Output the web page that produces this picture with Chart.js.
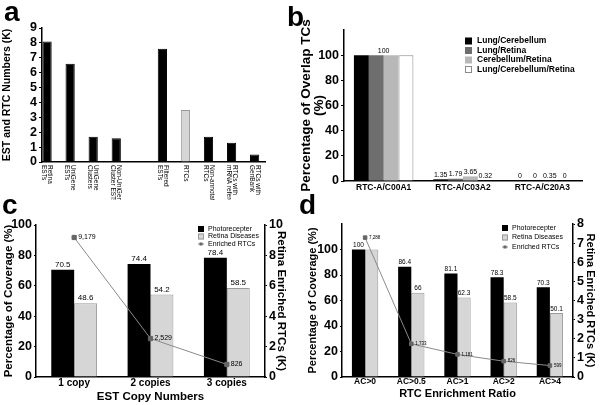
<!DOCTYPE html>
<html>
<head>
<meta charset="utf-8">
<script src="https://cdn.jsdelivr.net/npm/chart.js@4/dist/chart.umd.min.js"></script>
<style>
  body { margin: 0; background: #fff; width: 600px; height: 405px; position: relative; overflow: hidden; }
  canvas { position: absolute; }
  .tag { position: absolute; font: bold 28px "Liberation Sans", Arial, sans-serif; line-height: 28px; color: #000; }
</style>
</head>
<body>
<canvas id="chartA" width="300" height="200" style="left:0;top:0"></canvas>
<canvas id="chartB" width="300" height="200" style="left:300px;top:0"></canvas>
<canvas id="chartC" width="300" height="205" style="left:0;top:200px"></canvas>
<canvas id="chartD" width="300" height="205" style="left:300px;top:200px"></canvas>
<div class="tag" style="left:4px;top:-2px">a</div>
<div class="tag" style="left:287px;top:3px">b</div>
<div class="tag" style="left:2px;top:191px">c</div>
<div class="tag" style="left:299px;top:191px">d</div>
<script>
// ---- panel a: EST / RTC numbers (K)
var aCategories = ['Retina\nESTs', 'UniGene\nESTs', 'UniGene\nClusters', 'Non-UniGene\nCluster ESTs', '',
                   'Filtered\nESTs', 'RTCs', 'Non-annotated\nRTCs', 'RTCs with\nmRNA reference', 'RTCs with\nGenBank'];
var aValues = [8.1, 6.6, 1.7, 1.6, null, 7.6, 3.5, 1.7, 1.3, 0.5];

// ---- panel b: overlap of TCs (%)
var bCategories = ['RTC-A/C00A1', 'RTC-A/C03A2', 'RTC-A/C20A3'];
var bLungCerebellum = [100, 1.35, 0];
var bLungRetina = [100, 1.79, 0];
var bCerebellumRetina = [100, 3.65, 0.35];
var bAllThree = [100, 0.32, 0];

// ---- panel c: EST copy numbers
var cCategories = ['1 copy', '2 copies', '3 copies'];
var cPhotoreceptor = [70.5, 74.4, 78.4];
var cRetinaDiseases = [48.6, 54.2, 58.5];
var cEnrichedRTCs = [9.179, 2.529, 0.826];

// ---- panel d: RTC enrichment ratio
var dCategories = ['AC>0', 'AC>0.5', 'AC>1', 'AC>2', 'AC>4'];
var dPhotoreceptor = [100, 86.4, 81.1, 78.3, 70.3];
var dRetinaDiseases = [100, 66, 62.3, 58.5, 50.1];
var dEnrichedRTCs = [7.288, 1.733, 1.181, 0.826, 0.599];

var FONT = '"Liberation Sans", Arial, sans-serif';
var LIGHT = '#d6d6d6';
var LIGHT_EDGE = '#9a9a9a';

Chart.defaults.font.family = FONT;
Chart.defaults.color = '#000';
Chart.defaults.animation = false;
Chart.defaults.plugins.legend.display = false;
Chart.defaults.plugins.tooltip.enabled = false;

function thousands(v) {
    return Math.round(v * 1000).toLocaleString('en-US');
}

// text over bars / beside line points
var valueLabels = {
    id: 'valueLabels',
    afterDatasetsDraw(chart) {
        var ctx = chart.ctx;
        chart.data.datasets.forEach((ds, di) => {
            if (!ds.valueLabels) return;
            var meta = chart.getDatasetMeta(di);
            ctx.save();
            ctx.fillStyle = '#000';
            ctx.font = ds.labelFont;
            meta.data.forEach((el, i) => {
                var t = ds.valueLabels[i];
                if (t == null) return;
                if (meta.type === 'line') {
                    ctx.textAlign = 'left';
                    ctx.textBaseline = 'middle';
                    ctx.fillText(t, el.x + 4, el.y);
                } else {
                    ctx.textAlign = 'center';
                    ctx.textBaseline = 'bottom';
                    ctx.fillText(t, el.x, el.y - 1);
                }
            });
            ctx.restore();
        });
        var g = chart.options.plugins.groupLabels;
        if (g && g.labels) {
            var xs = chart.scales.x, ys = chart.scales.y;
            ctx.save();
            ctx.font = g.font;
            ctx.textAlign = 'center';
            ctx.textBaseline = 'bottom';
            g.labels.forEach((t, i) => {
                if (t == null) return;
                ctx.fillText(t, xs.getPixelForValue(i), ys.getPixelForValue(g.values[i]) - 1);
            });
            ctx.restore();
        }
    }
};

// small legend drawn inside the plot
var boxLegend = {
    id: 'boxLegend',
    afterDraw(chart, args, opts) {
        if (!opts || opts.x == null) return;
        var ctx = chart.ctx;
        ctx.save();
        ctx.font = opts.font;
        ctx.textAlign = 'left';
        ctx.textBaseline = 'middle';
        chart.data.datasets.forEach((ds, i) => {
            var x = opts.x, y = opts.y + i * opts.step, s = opts.box;
            if (ds.type === 'line') {
                ctx.strokeStyle = ds.borderColor;
                ctx.lineWidth = 1;
                ctx.beginPath();
                ctx.moveTo(x, y);
                ctx.lineTo(x + s, y);
                ctx.stroke();
                ctx.fillStyle = ds.pointBackgroundColor;
                ctx.fillRect(x + s / 2 - 1.5, y - 1.5, 3, 3);
            } else {
                ctx.fillStyle = ds.backgroundColor;
                ctx.fillRect(x, y - s / 2, s, s);
                if (ds.borderWidth) {
                    ctx.strokeStyle = ds.borderColor;
                    ctx.lineWidth = 1;
                    ctx.strokeRect(x + 0.5, y - s / 2 + 0.5, s - 1, s - 1);
                }
            }
            ctx.fillStyle = '#000';
            ctx.fillText(ds.label, x + s + opts.gap, y);
        });
        ctx.restore();
    }
};

// x labels of panel a, turned clockwise
var sideLabels = {
    id: 'sideLabels',
    afterDraw(chart, args, opts) {
        if (!opts || !opts.labels) return;
        var xs = chart.scales.x, ctx = chart.ctx;
        ctx.save();
        ctx.font = opts.font;
        ctx.fillStyle = '#000';
        ctx.textAlign = 'left';
        ctx.textBaseline = 'middle';
        opts.labels.forEach((lab, i) => {
            if (!lab) return;
            var lines = lab.split('\n');
            ctx.save();
            ctx.translate(xs.getPixelForValue(i), xs.top + opts.pad);
            ctx.rotate(Math.PI / 2);
            lines.forEach((ln, k) => ctx.fillText(ln, 0, (k - (lines.length - 1) / 2) * opts.lh));
            ctx.restore();
        });
        ctx.restore();
    }
};

var axisLine = { color: '#000', width: 1.5 };
function tickFont(size) { return { family: FONT, size: size, weight: 'bold' }; }
function fixWidth(w) { return s => { s.width = w; }; }
function fixHeight(h) { return s => { s.height = h; }; }
function upTo(limit) { return s => { s.ticks = s.ticks.filter(t => t.value <= limit); }; }

// ---------- a
new Chart(document.getElementById('chartA'), {
    type: 'bar',
    data: {
        datasets: [{
            data: aValues.map((v, i) => ({ x: i, y: v })).filter(p => p.y !== null),
            backgroundColor: aValues.map((v, i) => aCategories[i] === 'RTCs' ? LIGHT : '#000').filter((c, i) => aValues[i] !== null),
            borderColor: aValues.map((v, i) => aCategories[i] === 'RTCs' ? LIGHT_EDGE : '#000').filter((c, i) => aValues[i] !== null),
            borderWidth: 1,
            barPercentage: 0.4,
            categoryPercentage: 1
        }]
    },
    options: {
        responsive: false,
        layout: { padding: { left: 0, top: 28, right: 35, bottom: 0 } },
        scales: {
            x: {
                type: 'linear', min: -0.22, max: 9.45, offset: false,
                ticks: { display: false },
                grid: { display: false },
                border: axisLine,
                afterFit: fixHeight(38)
            },
            y: {
                min: 0, max: 9,
                ticks: { stepSize: 1, autoSkip: false, font: tickFont(12.5), padding: 2 },
                grid: { drawOnChartArea: false, tickLength: 3, color: '#000' },
                border: axisLine,
                title: { display: true, text: 'EST and RTC Numbers (K)', font: tickFont(10.5), padding: { top: 1, bottom: 0 } },
                afterFit: fixWidth(42)
            }
        },
        plugins: {
            sideLabels: { labels: aCategories, font: '6.5px ' + FONT, lh: 6, pad: 3 }
        }
    },
    plugins: [sideLabels]
});

// ---------- b
var bSeries = [
    ['Lung/Cerebellum', bLungCerebellum, '#000', '#000'],
    ['Lung/Retina', bLungRetina, '#6e6e6e', '#6e6e6e'],
    ['Cerebellum/Retina', bCerebellumRetina, '#b8b8b8', '#b8b8b8'],
    ['Lung/Cerebellum/Retina', bAllThree, '#fff', '#8a8a8a']
];
new Chart(document.getElementById('chartB'), {
    type: 'bar',
    data: {
        labels: bCategories,
        datasets: bSeries.map(s => ({
            label: s[0],
            data: s[1],
            backgroundColor: s[2],
            borderColor: s[3],
            borderWidth: s[2] === '#fff' ? 1 : 0,
            categoryPercentage: 0.75,
            barPercentage: 1,
            valueLabels: s[1].map((v, i) => i === 0 ? null : String(v)),
            labelFont: '7px ' + FONT
        }))
    },
    options: {
        responsive: false,
        layout: { padding: { left: 0, top: 30, right: 18, bottom: 0 } },
        scales: {
            x: {
                ticks: { font: tickFont(8.5), padding: 2 },
                grid: { display: false, drawTicks: false },
                border: axisLine,
                afterFit: fixHeight(19)
            },
            y: {
                min: 0, max: 120,
                ticks: { stepSize: 20, autoSkip: false, font: tickFont(12.5), padding: 2 },
                afterBuildTicks: upTo(100),
                grid: { drawOnChartArea: false, tickLength: 3, color: '#000' },
                border: axisLine,
                title: { display: true, text: ['Percentage of Overlap TCs', '(%)'], font: { family: FONT, size: 13.5, weight: 'bold', lineHeight: 0.95 }, padding: { top: 0, bottom: 0 } },
                afterFit: fixWidth(44)
            }
        },
        plugins: {
            groupLabels: { labels: ['100', null, null], values: bLungCerebellum, font: '7px ' + FONT },
            boxLegend: { x: 165, y: 41, step: 9.5, box: 7, gap: 5, font: 'bold 8.5px ' + FONT }
        }
    },
    plugins: [valueLabels, boxLegend]
});

// ---------- c
new Chart(document.getElementById('chartC'), {
    type: 'bar',
    data: {
        labels: cCategories,
        datasets: [{
            label: 'Photorecepter',
            data: cPhotoreceptor,
            backgroundColor: '#000',
            borderWidth: 0,
            categoryPercentage: 0.6,
            barPercentage: 1,
            valueLabels: cPhotoreceptor.map(String),
            labelFont: '8px ' + FONT
        }, {
            label: 'Retina Diseases',
            data: cRetinaDiseases,
            backgroundColor: LIGHT,
            borderColor: LIGHT_EDGE,
            borderWidth: 1,
            categoryPercentage: 0.6,
            barPercentage: 1,
            valueLabels: cRetinaDiseases.map(String),
            labelFont: '8px ' + FONT
        }, {
            type: 'line',
            label: 'Enriched RTCs',
            data: cEnrichedRTCs,
            yAxisID: 'y1',
            order: -1,
            borderColor: '#8a8a8a',
            borderWidth: 1,
            pointStyle: 'rect',
            pointRadius: 3,
            pointBackgroundColor: '#666',
            pointBorderColor: '#666',
            valueLabels: cEnrichedRTCs.map(thousands),
            labelFont: '7px ' + FONT
        }]
    },
    options: {
        responsive: false,
        layout: { padding: { left: 0, top: 25, right: 12, bottom: 0 } },
        scales: {
            x: {
                ticks: { font: tickFont(10), padding: 0 },
                grid: { display: false, drawTicks: false },
                border: axisLine,
                title: { display: true, text: 'EST Copy Numbers', font: tickFont(11.5), padding: { top: 0, bottom: 1 } },
                afterFit: fixHeight(28)
            },
            y: {
                min: 0, max: 100,
                ticks: { stepSize: 20, autoSkip: false, font: tickFont(12.5), padding: 2 },
                grid: { drawOnChartArea: false, tickLength: 2, color: '#000' },
                border: axisLine,
                title: { display: true, text: 'Percentage of Coverage (%)', font: tickFont(11.5), padding: { top: 2, bottom: 0 } },
                afterFit: fixWidth(36)
            },
            y1: {
                position: 'right',
                min: 0, max: 10,
                ticks: { stepSize: 2, autoSkip: false, font: tickFont(12.5), padding: 2 },
                grid: { drawOnChartArea: false, tickLength: 2, color: '#000' },
                border: axisLine,
                title: { display: true, text: 'Retina Enriched RTCs (K)', font: tickFont(11.5), padding: { top: 0, bottom: 0 } },
                afterFit: fixWidth(23)
            }
        },
        plugins: {
            boxLegend: { x: 198, y: 29, step: 7.5, box: 6, gap: 4, font: '7px ' + FONT }
        }
    },
    plugins: [valueLabels, boxLegend]
});

// ---------- d
new Chart(document.getElementById('chartD'), {
    type: 'bar',
    data: {
        labels: dCategories,
        datasets: [{
            label: 'Photorecepter',
            data: dPhotoreceptor,
            backgroundColor: '#000',
            borderWidth: 0,
            categoryPercentage: 0.57,
            barPercentage: 1,
            valueLabels: dPhotoreceptor.map(String),
            labelFont: '6.5px ' + FONT
        }, {
            label: 'Retina Diseases',
            data: dRetinaDiseases,
            backgroundColor: LIGHT,
            borderColor: LIGHT_EDGE,
            borderWidth: 1,
            categoryPercentage: 0.57,
            barPercentage: 1,
            valueLabels: dRetinaDiseases.map((v, i) => i === 0 ? null : String(v)),
            labelFont: '6.5px ' + FONT
        }, {
            type: 'line',
            label: 'Enriched RTCs',
            data: dEnrichedRTCs,
            yAxisID: 'y1',
            order: -1,
            borderColor: '#8a8a8a',
            borderWidth: 1,
            pointStyle: 'rect',
            pointRadius: 2.5,
            pointBackgroundColor: '#666',
            pointBorderColor: '#666',
            valueLabels: dEnrichedRTCs.map(thousands),
            labelFont: '4.5px ' + FONT
        }]
    },
    options: {
        responsive: false,
        layout: { padding: { left: 0, top: 24, right: 3, bottom: 0 } },
        scales: {
            x: {
                ticks: { font: tickFont(8.5), padding: 0 },
                grid: { display: false, drawTicks: false },
                border: axisLine,
                title: { display: true, text: 'RTC Enrichment Ratio', font: tickFont(11), padding: { top: 0, bottom: 4 } },
                afterFit: fixHeight(28)
            },
            y: {
                min: 0, max: 120,
                ticks: { stepSize: 20, autoSkip: false, font: tickFont(12.5), padding: 2 },
                afterBuildTicks: upTo(100),
                grid: { drawOnChartArea: false, tickLength: 2, color: '#000' },
                border: axisLine,
                title: { display: true, text: 'Percentage of Coverage (%)', font: tickFont(11), padding: { top: 6, bottom: 0 } },
                afterFit: fixWidth(42)
            },
            y1: {
                position: 'right',
                min: 0, max: 8,
                ticks: { stepSize: 1, autoSkip: false, font: tickFont(12.5), padding: 2 },
                grid: { drawOnChartArea: false, tickLength: 2, color: '#000' },
                border: axisLine,
                title: { display: true, text: 'Retina Enriched RTCs (K)', font: tickFont(11), padding: { top: 0, bottom: 0 } },
                afterFit: fixWidth(24)
            }
        },
        plugins: {
            boxLegend: { x: 202, y: 28, step: 9.5, box: 6, gap: 4, font: '7px ' + FONT }
        }
    },
    plugins: [valueLabels, boxLegend]
});
</script>
</body>
</html>
